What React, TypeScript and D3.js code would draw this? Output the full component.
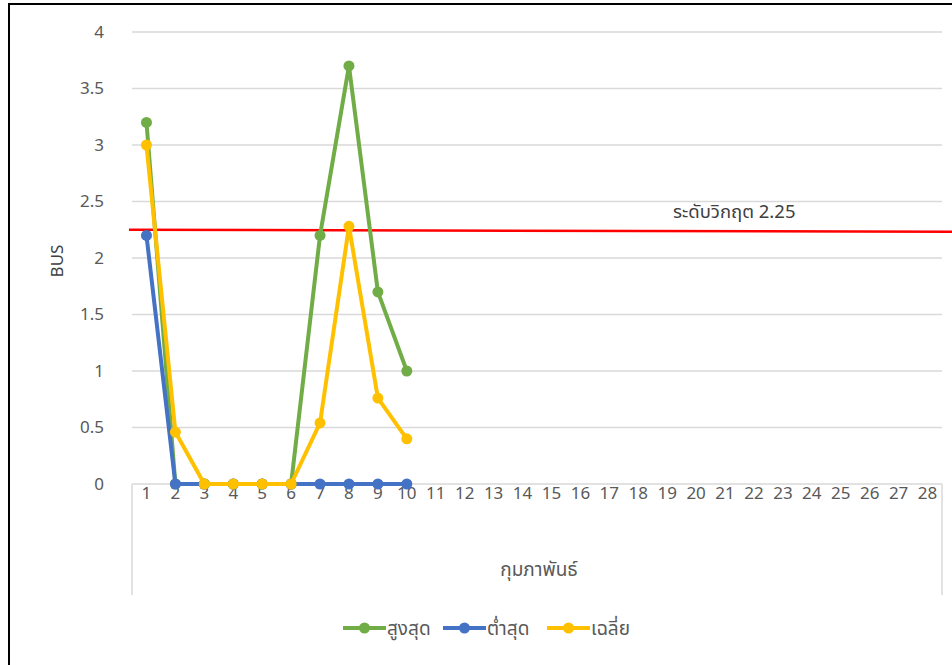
import React from 'react';
import * as d3 from 'd3';

const days: string[] = d3.range(1, 29).map(String);
const yTicks: number[] = [0, 0.5, 1, 1.5, 2, 2.5, 3, 3.5, 4];

const maxValues: number[] = [3.2, 0, 0, 0, 0, 0, 2.2, 3.7, 1.7, 1.0];
const minValues: number[] = [2.2, 0, 0, 0, 0, 0, 0, 0, 0, 0];
const avgValues: number[] = [3.0, 0.46, 0, 0, 0, 0, 0.54, 2.28, 0.76, 0.4];

const seriesNames: string[] = ['สูงสุด', 'ต่ำสุด', 'เฉลี่ย'];
const seriesColors: string[] = ['#70AD47', '#4472C4', '#FFC000'];

const criticalLevel = 2.25;
const criticalLabel = 'ระดับวิกฤต 2.25';
const xTitle = 'กุมภาพันธ์';
const yTitle = 'BUS';

const W = 952;
const H = 665;
const font = 'Tahoma, "Noto Sans Thai", "Noto Sans", "DejaVu Sans", sans-serif';

const App: React.FC = () => {
  const margin = { left: 132, right: 10, top: 32, bottom: 181 };
  const x = d3.scaleBand<string>().domain(days).range([margin.left, W - margin.right]);
  const y = d3.scaleLinear().domain([0, 4]).range([H - margin.bottom, margin.top]);
  const cx = (i: number) => (x(days[i]) as number) + x.bandwidth() / 2;

  const line = d3.line<number>()
    .x((_, i) => cx(i))
    .y(d => y(d));

  const series = [maxValues, minValues, avgValues];
  const axisY = y(0);
  const boxBottom = 595;

  // legend layout
  const legendY = 628;
  const legendX = [343, 443, 547];

  return (
    <svg width={W} height={H} style={{ position: 'absolute', left: 0, top: 0, background: '#fff' }} fontFamily={font}>
      {/* frame */}
      <line x1={9} x2={9} y1={4} y2={H} stroke="#000" strokeWidth={2} />
      <line x1={8} x2={W} y1={4} y2={4} stroke="#000" strokeWidth={2} />

      {/* grid */}
      {yTicks.map(t => (
        <g key={t}>
          <line x1={margin.left} x2={W - margin.right} y1={y(t)} y2={y(t)} stroke="#d9d9d9" strokeWidth={1.5} />
          <text x={104} y={y(t)} dy="0.35em" textAnchor="end" fontSize={17} fill="#595959">{t}</text>
        </g>
      ))}

      {/* category axis box */}
      <line x1={margin.left} x2={margin.left} y1={axisY} y2={boxBottom} stroke="#d9d9d9" strokeWidth={1.5} />
      <line x1={W - margin.right} x2={W - margin.right} y1={axisY} y2={boxBottom} stroke="#d9d9d9" strokeWidth={1.5} />
      {days.map((d, i) => (
        <text key={d} x={cx(i)} y={493} dy="0.35em" textAnchor="middle" fontSize={17} fill="#595959">{d}</text>
      ))}
      <text x={(margin.left + W - margin.right) / 2 + 2} y={576} textAnchor="middle" fontSize={19} fill="#595959">{xTitle}</text>
      <text transform={`translate(63,${(y(0) + y(4)) / 2 + 3}) rotate(-90)`} textAnchor="middle" fontSize={17} fill="#404040">{yTitle}</text>

      {/* critical level */}
      <line x1={129} x2={W} y1={y(criticalLevel)} y2={y(criticalLevel) + 2} stroke="#ff0000" strokeWidth={2.5} />
      <text x={673} y={218} fontSize={18.5} fill="#404040">{criticalLabel}</text>

      {/* series */}
      {series.map((vals, si) => (
        <g key={si}>
          <path d={line(vals) || ''} fill="none" stroke={seriesColors[si]} strokeWidth={4} strokeLinejoin="round" />
          {vals.map((v, i) => (
            <circle key={i} cx={cx(i)} cy={y(v)} r={5.5} fill={seriesColors[si]} />
          ))}
        </g>
      ))}

      {/* legend */}
      {seriesNames.map((name, si) => (
        <g key={name} transform={`translate(${legendX[si]},${legendY})`}>
          <line x1={0} x2={43} y1={0} y2={0} stroke={seriesColors[si]} strokeWidth={4} />
          <circle cx={21.5} cy={0} r={5.5} fill={seriesColors[si]} />
          <text x={44} y={0} dy="0.35em" fontSize={19} fill="#595959">{name}</text>
        </g>
      ))}
    </svg>
  );
};

export default App;
